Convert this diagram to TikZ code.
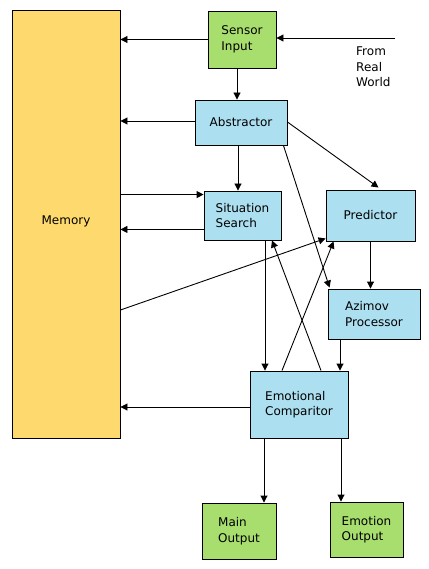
\documentclass[tikz,border=0pt]{standalone}
\usepackage{fontspec}
\setmainfont{DejaVu Sans}
\usetikzlibrary{arrows.meta,calc}
\definecolor{memyel}{RGB}{254,218,110}
\definecolor{ingreen}{RGB}{168,222,110}
\definecolor{procblue}{RGB}{172,223,240}
\begin{document}
\begin{tikzpicture}[x=1pt,y=-1pt,
  box/.style={draw=black,line width=0.9pt,inner sep=0pt,align=left,
    font=\fontsize{12}{15.5}\selectfont},
  arr/.style={line width=0.9pt,-{Triangle[length=7pt,width=7pt]}},
  lbl/.style={font=\fontsize{12}{15.5}\selectfont,align=left,inner sep=0pt}]
\useasboundingbox (0,0) rectangle (428,569);
\fill[white] (0,0) rectangle (428,569);
% nodes
\node[box,fill=memyel,minimum width=108pt,minimum height=428pt] (mem) at (66,224) {\raisebox{7pt}{Memory}};
\node[box,fill=ingreen,minimum width=68pt,minimum height=57pt] (sensor) at (242,39.5) {Sensor\\Input};
\node[box,fill=procblue,minimum width=92pt,minimum height=45pt] (abs) at (241,122.5) {Abstractor};
\node[box,fill=procblue,minimum width=77pt,minimum height=49pt] (sit) at (242.5,215.5) {Situation\\Search};
\node[box,fill=procblue,minimum width=89pt,minimum height=51pt] (pred) at (370.5,215.5) {Predictor};
\node[box,fill=procblue,minimum width=92pt,minimum height=50pt] (az) at (374,314) {Azimov\\Processor};
\node[box,fill=procblue,minimum width=98pt,minimum height=67pt] (emo) at (299,404.5) {Emotional\\Comparitor};
\node[box,fill=ingreen,minimum width=74pt,minimum height=56pt] (mout) at (239,531) {Main\\Output};
\node[box,fill=ingreen,minimum width=73pt,minimum height=55pt] (eout) at (366.5,529.5) {Emotion\\Output};
\node[lbl,anchor=north west] (rwtxt) at (356,47) {From\\Real\\World};
\coordinate (rw) at (395,38);
% connectors
\draw[arr] (sensor.west) -- (sensor.west -| mem.east);
\draw[arr] (rw) -- (rw -| sensor.east);
\coordinate (a1) at ([xshift=-5pt]sensor.south);
\draw[arr] (a1) -- (a1 |- abs.north);
\coordinate (a0) at ([yshift=1.5pt]abs.west);
\draw[arr] (a0) -- (a0 -| mem.east);
\coordinate (a2) at ([xshift=-3pt]abs.south);
\draw[arr] (a2) -- (a2 |- sit.north);
\draw[arr] ([yshift=0.5pt]abs.east) -- ([xshift=8pt,yshift=2pt]pred.north);
\draw[arr] ([xshift=-4pt]abs.south east) -- ([xshift=2pt,yshift=1pt]az.north west);
\coordinate (s1) at ([yshift=-4pt]sit.north west);
\draw[arr] (s1 -| mem.east) -- (s1);
\coordinate (s2) at ([yshift=11pt]sit.south west);
\draw[arr] (s2) -- (s2 -| mem.east);
\draw[arr] ([yshift=-86pt]mem.east) -- ([yshift=3pt]pred.south west);
\coordinate (p1) at (pred.south);
\draw[arr] (p1) -- (p1 |- az.north);
\coordinate (s3) at ([xshift=22.5pt]sit.south);
\draw[arr] (s3) -- (s3 |- emo.north);
\draw[arr] ([xshift=22pt]emo.north) -- ([xshift=29.5pt]sit.south);
\draw[arr] ([xshift=-17pt]emo.north) -- ([xshift=8pt]pred.south west);
\coordinate (z1) at ([xshift=-34pt]az.south);
\draw[arr] (z1) -- (z1 |- emo.north);
\coordinate (e0) at ([yshift=-2.5pt]emo.west);
\draw[arr] (e0) -- (e0 -| mem.east);
\coordinate (e1) at ([xshift=-35pt]emo.south);
\draw[arr] (e1) -- (e1 |- mout.north);
\coordinate (e2) at ([xshift=42pt]emo.south);
\draw[arr] (e2) -- (e2 |- eout.north);
\end{tikzpicture}
\end{document}
